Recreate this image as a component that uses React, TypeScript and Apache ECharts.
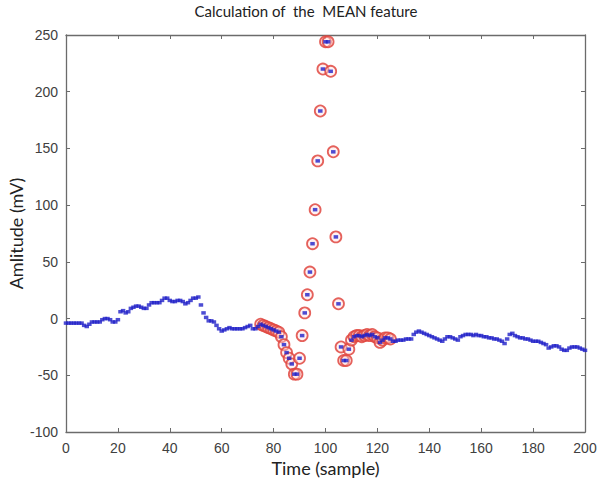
import React, { useEffect, useRef } from "react";
import * as echarts from "echarts";

// Signal samples 0..200 (mV)
const signal: number[] = [
  -4, -4, -4, -4, -4, -4, -4, -6, -7, -5,
  -3, -3, -3, -3, -1, 0, 0, -1, -3, -3,
  -1, 6, 7, 5, 6, 9, 10, 11, 11, 10,
  9, 9, 12, 14, 14, 14, 14, 16, 18, 18,
  16, 15, 15, 16, 16, 15, 13, 14, 16, 18,
  18, 19, 12, 5, 1, -2, -2, -3, -6, -9,
  -11, -10, -9, -8, -9, -9, -9, -9, -9, -8,
  -7, -6, -9, -9, -7, -5, -6, -7, -8, -9,
  -10, -11, -12, -16, -23, -30, -35, -40, -49, -49,
  -35, -15, 5, 21, 41, 66, 96, 139, 183, 220,
  244, 244, 218, 147, 72, 13, -25, -37, -37, -27,
  -19, -16, -15, -15, -16, -15, -14, -15, -14, -16,
  -17, -21, -19, -17, -17, -18, -20, -20, -19, -19,
  -19, -18, -18, -18, -14, -12, -11, -12, -13, -14,
  -15, -16, -17, -18, -19, -20, -18, -16, -16, -17,
  -18, -19, -16, -15, -14, -14, -14, -15, -14, -15,
  -15, -16, -16, -17, -17, -18, -18, -19, -20, -22,
  -18, -14, -13, -15, -16, -17, -17, -18, -18, -19,
  -20, -20, -20, -21, -22, -23, -26, -25, -24, -24,
  -25, -27, -28, -28, -26, -25, -25, -25, -26, -27,
  -28,
];

// Samples highlighted by the MEAN feature window
const markedStart = 75;
const markedEnd = 125;

const xTicks = { min: 0, max: 200, interval: 20 };
const yTicks = { min: -100, max: 250, interval: 50 };

const titleText = "Calculation of  the  MEAN feature";
const xName = "Time (sample)";
const yName = "Amlitude (mV)";

export default function App() {
  const ref = useRef<HTMLDivElement>(null);

  useEffect(() => {
    if (!ref.current) return;
    const chart = echarts.init(ref.current, null, { renderer: "svg" });

    const bluePts = signal.map((v, i) => [i, v]);
    const redPts = signal
      .map((v, i) => [i, v])
      .filter(([i]) => i >= markedStart && i <= markedEnd);

    const axisLine = { show: true, onZero: false, lineStyle: { color: "#6b6b6b", width: 1.3 } };
    const tick = { show: true, inside: true, length: 4, lineStyle: { color: "#6b6b6b" } };
    const labelStyle = {
      color: "#404040",
      fontFamily: "Liberation Sans, Arial, sans-serif",
      fontSize: 14,
    };
    const nameStyle = {
      color: "#222",
      fontFamily: "Lato, 'Open Sans', sans-serif",
      fontSize: 18,
    };

    chart.setOption({
      animation: false,
      backgroundColor: "#ffffff",
      grid: {
        left: 66,
        right: 14,
        top: 35,
        bottom: 59,
        containLabel: false,
        outerBoundsMode: "none",
      },
      graphic: [
        {
          type: "text",
          x: 306,
          y: 3,
          style: {
            text: titleText,
            fill: "#222",
            font: "15px Lato, 'Open Sans', sans-serif",
            textAlign: "center",
          },
        },
      ],
      xAxis: [
        {
          type: "value",
          ...xTicks,
          position: "bottom",
          axisLine,
          axisTick: tick,
          axisLabel: { ...labelStyle, margin: 9 },
          splitLine: { show: false },
          name: xName,
          nameLocation: "middle",
          nameGap: 27,
          nameMoveOverlap: false,
          nameTextStyle: nameStyle,
        },
        {
          type: "value",
          ...xTicks,
          position: "top",
          axisLine,
          axisTick: tick,
          axisLabel: { show: false },
          splitLine: { show: false },
        },
      ],
      yAxis: [
        {
          type: "value",
          ...yTicks,
          position: "left",
          axisLine,
          axisTick: tick,
          axisLabel: { ...labelStyle, margin: 8 },
          splitLine: { show: false },
          name: yName,
          nameLocation: "middle",
          nameGap: 41,
          nameMoveOverlap: false,
          nameTextStyle: nameStyle,
        },
        {
          type: "value",
          ...yTicks,
          position: "right",
          axisLine,
          axisTick: tick,
          axisLabel: { show: false },
          splitLine: { show: false },
        },
      ],
      series: [
        {
          type: "scatter",
          data: redPts,
          symbol: "circle",
          symbolSize: 11,
          itemStyle: {
            color: "rgba(255,225,225,0.5)",
            borderColor: "#e0473f",
            borderWidth: 1.8,
            opacity: 0.85,
          },
          z: 2,
        },
        {
          type: "scatter",
          data: bluePts,
          symbol: "rect",
          symbolSize: [4.5, 3.5],
          itemStyle: { color: "#2020c8" },
          z: 3,
        },
      ],
    });

    return () => chart.dispose();
  }, []);

  return (
    <div style={{ position: "fixed", left: 0, top: 0, width: 599, height: 491, background: "#fff" }}>
      <div ref={ref} style={{ width: 599, height: 491 }} />
    </div>
  );
}
